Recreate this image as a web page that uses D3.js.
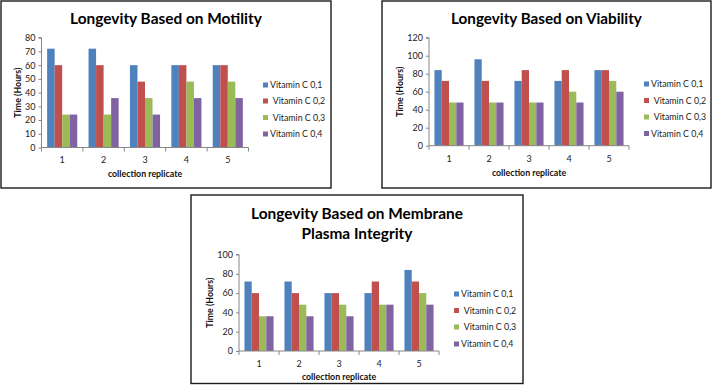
<!DOCTYPE html>
<html>
<head>
<meta charset="utf-8">
<script src="https://cdn.jsdelivr.net/npm/d3@7"></script>
<style>
  html, body { margin: 0; padding: 0; background: #fff; }
  svg { display: block; }
  text { font-family: Lato, "Open Sans", "Liberation Sans", sans-serif; }
</style>
</head>
<body>
<svg id="chart" width="714" height="385"></svg>
<script>
// ---- data ----
const categories = ["1", "2", "3", "4", "5"];
const seriesNames = ["Vitamin C 0,1", "Vitamin C 0,2", "Vitamin C 0,3", "Vitamin C 0,4"];
const seriesColors = ["#4F81BD", "#C0504D", "#9BBB59", "#8064A2"];

const motilityC01 = [72, 72, 60, 60, 60];
const motilityC02 = [60, 60, 48, 60, 60];
const motilityC03 = [24, 24, 36, 48, 48];
const motilityC04 = [24, 36, 24, 36, 36];

const viabilityC01 = [84, 96, 72, 72, 84];
const viabilityC02 = [72, 72, 84, 84, 84];
const viabilityC03 = [48, 48, 48, 60, 72];
const viabilityC04 = [48, 48, 48, 48, 60];

const membraneC01 = [72, 72, 60, 60, 84];
const membraneC02 = [60, 60, 60, 72, 72];
const membraneC03 = [36, 48, 48, 48, 60];
const membraneC04 = [36, 36, 36, 48, 48];

const motilityTicks = [0, 10, 20, 30, 40, 50, 60, 70, 80];
const viabilityTicks = [0, 20, 40, 60, 80, 100, 120];
const membraneTicks = [0, 20, 40, 60, 80, 100];

const xAxisTitle = "collection replicate";
const yAxisTitle = "Time (Hours)";

// ---- layout ----
const charts = [
  {
    title: ["Longevity Based on Motility"], titleW: [192], titleY: [23.5],
    series: [motilityC01, motilityC02, motilityC03, motilityC04], ticks: motilityTicks,
    box: [1, 1, 331, 188], plot: { x0: 41.5, x1: 248.5, y0: 147.5, y1: 37.7 },
    yTitleX: 18, xLabY: 159.5, xTitleY: 173.5, legX: 263, legY: [85, 101, 117.5, 134]
  },
  {
    title: ["Longevity Based on Viability"], titleW: [191], titleY: [23.5],
    series: [viabilityC01, viabilityC02, viabilityC03, viabilityC04], ticks: viabilityTicks,
    box: [382, 1, 711, 188], plot: { x0: 429, x1: 629, y0: 145.7, y1: 37.7 },
    yTitleX: 399.5, xLabY: 158.5, xTitleY: 173, legX: 644, legY: [84, 100.5, 117, 133.5]
  },
  {
    title: ["Longevity Based on Membrane", "Plasma Integrity"], titleW: [212, 111], titleY: [219, 238.5],
    series: [membraneC01, membraneC02, membraneC03, membraneC04], ticks: membraneTicks,
    box: [191, 195, 523, 383.5], plot: { x0: 239, x1: 439, y0: 351, y1: 254.5 },
    yTitleX: 209.5, xLabY: 364, xTitleY: 377, legX: 454, legY: [294, 310.5, 327, 344]
  }
];

const svg = d3.select("#chart");

charts.forEach(c => {
  const g = svg.append("g");
  // border
  g.append("rect")
    .attr("x", c.box[0]).attr("y", c.box[1])
    .attr("width", c.box[2] - c.box[0]).attr("height", c.box[3] - c.box[1])
    .attr("fill", "#fff").attr("stroke", "#1a1a1a").attr("stroke-width", 1.4);

  // title (fit to measured width)
  c.title.forEach((t, i) => {
    const txt = g.append("text")
      .attr("x", (c.box[0] + c.box[2]) / 2)
      .attr("y", c.titleY[i])
      .attr("text-anchor", "middle")
      .attr("font-weight", "bold")
      .attr("font-size", 15)
      .attr("fill", "#000")
      .text(t);
    const w = txt.node().getComputedTextLength();
    txt.attr("font-size", 15 * c.titleW[i] / w);
  });

  const p = c.plot;
  const x = d3.scaleBand().domain(categories).range([p.x0, p.x1]).paddingInner(0).paddingOuter(0);
  const y = d3.scaleLinear().domain([c.ticks[0], c.ticks[c.ticks.length - 1]]).range([p.y0, p.y1]);
  const xs = d3.scaleBand().domain(d3.range(seriesNames.length)).range([x.bandwidth() * 0.75 / 5.5, x.bandwidth() - x.bandwidth() * 0.75 / 5.5]);

  // bars
  c.series.forEach((vals, si) => {
    g.append("g").selectAll("rect").data(vals).join("rect")
      .attr("x", (d, i) => x(categories[i]) + xs(si))
      .attr("width", xs.bandwidth())
      .attr("y", d => y(d))
      .attr("height", d => y(0) - y(d))
      .attr("fill", seriesColors[si]);
  });

  // y axis
  const yAxis = d3.axisLeft(y).tickValues(c.ticks).tickSize(3).tickPadding(3).tickFormat(d3.format("d"));
  const ya = g.append("g").attr("transform", `translate(${p.x0},0)`).call(yAxis);
  ya.select(".domain").attr("stroke", "#868686").attr("d", `M-3,${p.y1}H0V${p.y0}`);
  ya.selectAll(".tick line").attr("stroke", "#868686");
  ya.selectAll(".tick text").attr("font-size", 9).attr("fill", "#222")
    .attr("font-family", "Lato, 'Open Sans', sans-serif");

  // x axis
  const xa = g.append("g").attr("transform", `translate(0,${p.y0})`);
  xa.append("line").attr("x1", p.x0).attr("x2", p.x1).attr("y1", 0).attr("y2", 0).attr("stroke", "#868686");
  const bounds = categories.map(cat => x(cat)).concat([p.x1]);
  xa.selectAll("line.tk").data(bounds).join("line").attr("class", "tk")
    .attr("x1", d => d).attr("x2", d => d).attr("y1", 0).attr("y2", 4).attr("stroke", "#868686");
  g.append("g").selectAll("text").data(categories).join("text")
    .attr("x", d => x(d) + x.bandwidth() / 2)
    .attr("y", c.xLabY).attr("dy", "0.35em")
    .attr("text-anchor", "middle").attr("font-size", 9).attr("fill", "#222")
    .text(d => d);

  // axis titles
  g.append("text")
    .attr("x", (p.x0 + p.x1) / 2).attr("y", c.xTitleY).attr("dy", "0.35em")
    .attr("text-anchor", "middle").attr("font-size", 8.8).attr("font-weight", "bold").attr("fill", "#111")
    .text(xAxisTitle);
  g.append("text")
    .attr("transform", `translate(${c.yTitleX},${(p.y0 + p.y1) / 2}) rotate(-90)`)
    .attr("dy", "0.35em")
    .attr("text-anchor", "middle").attr("font-size", 8.8).attr("font-weight", "bold").attr("fill", "#111")
    .text(yAxisTitle);

  // legend
  seriesNames.forEach((name, si) => {
    const ly = c.legY[si];
    g.append("rect").attr("x", c.legX).attr("y", ly - 2.5).attr("width", 5).attr("height", 5)
      .attr("fill", seriesColors[si]);
    g.append("text")
      .attr("x", c.legX + 7 + (si === 1 || si === 2 ? 2.7 : 0)).attr("y", ly).attr("dy", "0.35em")
      .attr("font-size", 8.8).attr("fill", "#222")
      .text(name);
  });
});
</script>
</body>
</html>
